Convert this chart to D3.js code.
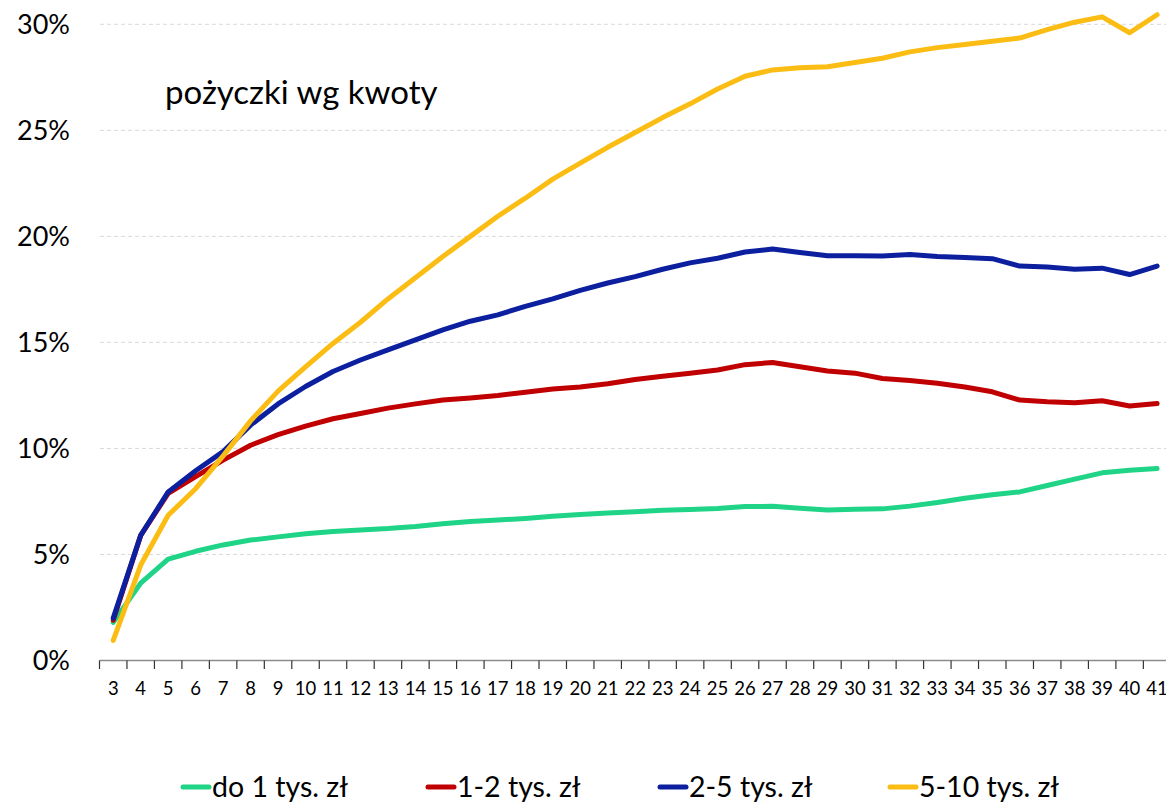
<!DOCTYPE html>
<html>
<head>
<meta charset="utf-8">
<script src="https://cdn.jsdelivr.net/npm/d3@7"></script>
<style>
  html, body { margin: 0; padding: 0; background: #fff; }
  svg { display: block; }
  text { font-family: Lato, "Open Sans", "Liberation Sans", sans-serif; fill: #000; }
</style>
</head>
<body>
<svg id="chart" width="1166" height="805"></svg>
<script>
// Months since loan start (x axis categories)
const months = d3.range(3, 42);

// Share of loans (%) by loan amount
const seriesNames = ["do 1 tys. zł", "1-2 tys. zł", "2-5 tys. zł", "5-10 tys. zł"];
const upTo1k = [1.8, 3.65, 4.78, 5.15, 5.45, 5.68, 5.83, 5.98, 6.08, 6.15, 6.22, 6.32, 6.45, 6.55, 6.62, 6.7, 6.8, 6.88, 6.96, 7.02, 7.08, 7.12, 7.17, 7.26, 7.27, 7.18, 7.1, 7.13, 7.15, 7.28, 7.45, 7.65, 7.82, 7.95, 8.25, 8.55, 8.85, 8.97, 9.05];
const from1to2k = [1.9, 5.9, 7.88, 8.67, 9.45, 10.15, 10.65, 11.05, 11.4, 11.65, 11.9, 12.1, 12.28, 12.38, 12.5, 12.65, 12.8, 12.9, 13.05, 13.25, 13.4, 13.55, 13.7, 13.95, 14.05, 13.85, 13.65, 13.55, 13.3, 13.2, 13.07, 12.9, 12.67, 12.28, 12.2, 12.15, 12.25, 12.0, 12.12];
const from2to5k = [2.0, 5.9, 7.95, 8.95, 9.85, 11.1, 12.1, 12.92, 13.63, 14.17, 14.65, 15.12, 15.59, 16.0, 16.3, 16.7, 17.05, 17.45, 17.8, 18.1, 18.45, 18.75, 18.97, 19.26, 19.4, 19.24, 19.09, 19.09, 19.07, 19.15, 19.05, 19.0, 18.95, 18.6, 18.55, 18.45, 18.5, 18.2, 18.6];
const from5to10k = [0.95, 4.5, 6.85, 8.1, 9.65, 11.3, 12.7, 13.85, 14.95, 15.95, 17.05, 18.05, 19.05, 20.0, 20.95, 21.8, 22.7, 23.45, 24.2, 24.9, 25.6, 26.25, 26.95, 27.55, 27.85, 27.95, 28.0, 28.2, 28.4, 28.7, 28.9, 29.05, 29.2, 29.35, 29.75, 30.1, 30.35, 29.6, 30.45];

const yTicks = [0, 5, 10, 15, 20, 25, 30];
const colors = ["#1fd487", "#c00000", "#0b1f9f", "#fbbd14"];
const allSeries = [upTo1k, from1to2k, from2to5k, from5to10k];

const svg = d3.select("#chart");

const x = d3.scaleBand().domain(months).range([99.5, 99.5 + 39 * 27.47]).padding(0);
const y = d3.scaleLinear().domain([0, 30]).range([660.5, 24.3]);

// Horizontal gridlines
svg.append("g")
  .selectAll("line")
  .data(yTicks.filter(d => d > 0))
  .join("line")
  .attr("x1", 100).attr("x2", 1166)
  .attr("y1", d => y(d)).attr("y2", d => y(d))
  .attr("stroke", "#d9d9d9").attr("stroke-width", 1)
  .attr("stroke-dasharray", "4,3");

// Y axis labels
const yAxis = d3.axisLeft(y).tickValues(yTicks).tickFormat(d => d + "%").tickSize(0).tickPadding(0);
const gy = svg.append("g").attr("transform", "translate(70,0)").call(yAxis);
gy.select(".domain").remove();
gy.selectAll("text").attr("font-size", 27).attr("font-family", "Lato, 'Open Sans', sans-serif").attr("fill", "#000").attr("dy", "0.35em");

// X axis: baseline, ticks at category boundaries, labels centred in bands
const xAxis = d3.axisBottom(x).tickSize(0).tickPadding(0);
const gx = svg.append("g").attr("transform", "translate(0,660.5)").call(xAxis);
gx.select(".domain").remove();
gx.selectAll("text").attr("font-size", 18.5).attr("font-family", "Lato, 'Open Sans', sans-serif").attr("fill", "#000").attr("y", 21).attr("dy", "0.71em");

svg.append("line")
  .attr("x1", x(months[0])).attr("x2", 1166)
  .attr("y1", 660.5).attr("y2", 660.5)
  .attr("stroke", "#8c8c8c").attr("stroke-width", 1.5);

const boundaries = months.map(m => x(m)).concat([x(months[months.length - 1]) + x.bandwidth()]);
svg.append("g")
  .selectAll("line")
  .data(boundaries)
  .join("line")
  .attr("x1", d => d).attr("x2", d => d)
  .attr("y1", 660.5).attr("y2", 669)
  .attr("stroke", "#333").attr("stroke-width", 1.2);

// Series lines
const line = d3.line()
  .x((d, i) => x(months[i]) + x.bandwidth() / 2)
  .y(d => y(d));

svg.append("g")
  .selectAll("path")
  .data(allSeries)
  .join("path")
  .attr("d", d => line(d))
  .attr("fill", "none")
  .attr("stroke", (d, i) => colors[i])
  .attr("stroke-width", 5)
  .attr("stroke-linejoin", "round")
  .attr("stroke-linecap", "round");

// Panel annotation
svg.append("text")
  .attr("x", 165).attr("y", 104)
  .attr("font-size", 33)
  .text("pożyczki wg kwoty");

// Legend
const legendX = [183, 428, 660, 890];
const legend = svg.append("g")
  .selectAll("g")
  .data(seriesNames)
  .join("g")
  .attr("transform", (d, i) => `translate(${legendX[i]},787)`);

legend.append("line")
  .attr("x1", 0).attr("x2", 26)
  .attr("y1", 0).attr("y2", 0)
  .attr("stroke", (d, i) => colors[i])
  .attr("stroke-width", 5)
  .attr("stroke-linecap", "round");

legend.append("text")
  .attr("x", 29).attr("y", 0)
  .attr("dy", "0.35em")
  .attr("font-size", 28.5)
  .text(d => d);
</script>
</body>
</html>
